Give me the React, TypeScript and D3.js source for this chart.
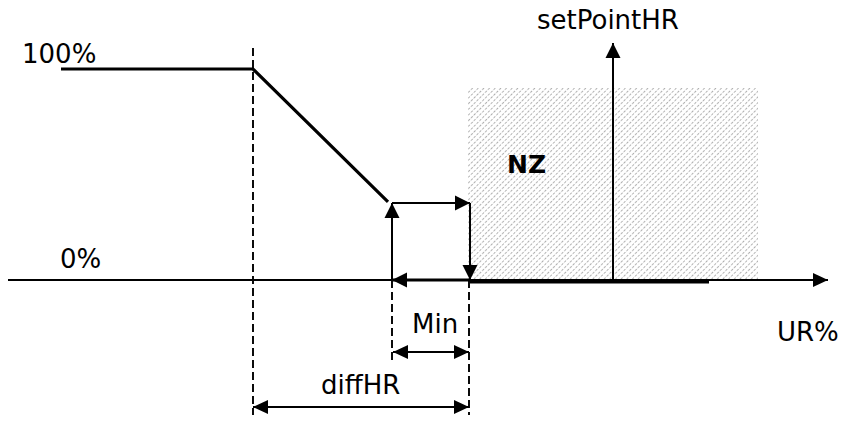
import React from "react";
import * as d3 from "d3";

// Diagram values (x in humidity units, y in output %)
const levelLabels = ["100%", "0%"];
const curveX = [53, 245, 380];
const curveY = [100, 100, 37];
const nzX = [460, 750];
const nzY = [0, 91];
const setPointX = 605;
const minStartX = 384;
const minEndX = 461;
const zeroLineX = [462, 701];
const axisLabels = ["UR%", "setPointHR", "NZ", "Min", "diffHR"];

const W = 842;
const H = 422;
const FONT = "'DejaVu Sans', Verdana, sans-serif";

function Arrow({ x1, y1, x2, y2, w = 2, head = 15, hw = 7.5, both = false }: any) {
  const a = Math.atan2(y2 - y1, x2 - x1);
  const tri = (tx: number, ty: number, ang: number) => {
    const bx = tx - head * Math.cos(ang);
    const by = ty - head * Math.sin(ang);
    const px = -Math.sin(ang) * hw;
    const py = Math.cos(ang) * hw;
    return `${tx},${ty} ${bx + px},${by + py} ${bx - px},${by - py}`;
  };
  return (
    <g>
      <line x1={x1} y1={y1} x2={x2} y2={y2} stroke="#000" strokeWidth={w} />
      <polygon points={tri(x2, y2, a)} fill="#000" />
      {both && <polygon points={tri(x1, y1, a + Math.PI)} fill="#000" />}
    </g>
  );
}

export default function App() {
  const x = d3.scaleLinear().domain([0, 820]).range([8, 828]);
  const y = d3.scaleLinear().domain([0, 100]).range([280, 69]);
  const line = d3.line<[number, number]>().x((d) => x(d[0])).y((d) => y(d[1]));
  const curve: [number, number][] = curveX.map((v, i) => [v, curveY[i]]);

  const kneeX = x(curveX[1]);
  const minS = x(minStartX);
  const minE = x(minEndX);
  const topY = y(curveY[2]) + 1;
  const y0 = y(0);
  const fs = 26;

  return (
    <svg width={W} height={H} style={{ position: "absolute", left: 0, top: 0, background: "#fff" }}>
      <defs>
        <pattern id="hatch" width="4" height="4" patternUnits="userSpaceOnUse" patternTransform="rotate(45)">
          <line x1="0.5" y1="0" x2="0.5" y2="4" stroke="#a6a6a6" strokeWidth="0.9" strokeDasharray="2.5 1.5" />
        </pattern>
      </defs>
      {/* NZ hatched zone */}
      <rect x={x(nzX[0])} y={y(nzY[1])} width={x(nzX[1]) - x(nzX[0])} height={y(nzY[0]) - y(nzY[1])} fill="url(#hatch)" />

      {/* dashed verticals */}
      <line x1={kneeX} y1={48} x2={kneeX} y2={415} stroke="#000" strokeWidth={1.9} strokeDasharray="8 4" />
      <line x1={minS} y1={y0} x2={minS} y2={360} stroke="#000" strokeWidth={1.9} strokeDasharray="8 4" />
      <line x1={minE} y1={y0} x2={minE} y2={415} stroke="#000" strokeWidth={1.9} strokeDasharray="8 4" />

      {/* horizontal axis */}
      <Arrow x1={x(0)} y1={y0} x2={x(820)} y2={y0} w={1.8} head={15} hw={7} />
      {/* setpoint arrow */}
      <Arrow x1={x(setPointX)} y1={y0} x2={x(setPointX)} y2={43} w={2} head={15} hw={7.5} />

      {/* curve */}
      <path d={line(curve) || ""} fill="none" stroke="#000" strokeWidth={3.2} />
      <line x1={x(zeroLineX[0])} y1={y0 + 2} x2={x(zeroLineX[1])} y2={y0 + 2} stroke="#000" strokeWidth={3.2} />

      {/* hysteresis loop */}
      <Arrow x1={minS} y1={y0} x2={minS} y2={topY} w={2} />
      <Arrow x1={minS} y1={topY} x2={minE + 1} y2={topY} w={2} />
      <Arrow x1={minE + 1} y1={topY} x2={minE + 1} y2={y0} w={2} />
      <Arrow x1={minE + 1} y1={y0} x2={minS} y2={y0} w={3} />

      {/* dimension arrows */}
      <Arrow x1={minS + 1} y1={352} x2={minE} y2={352} w={2} head={15} hw={7} both />
      <Arrow x1={kneeX} y1={407} x2={minE} y2={407} w={2} head={15} hw={7} both />

      {/* texts */}
      <g fontFamily={FONT} fontSize={fs} fill="#000">
        <text x={22} y={63}>{levelLabels[0]}</text>
        <text x={60} y={268}>{levelLabels[1]}</text>
        <text x={777} y={341}>{axisLabels[0]}</text>
        <text x={537} y={29}>{axisLabels[1]}</text>
        <text x={507} y={173} fontWeight="bold" fontSize={25}>{axisLabels[2]}</text>
        <text x={412} y={333}>{axisLabels[3]}</text>
        <text x={321} y={394}>{axisLabels[4]}</text>
      </g>
    </svg>
  );
}
